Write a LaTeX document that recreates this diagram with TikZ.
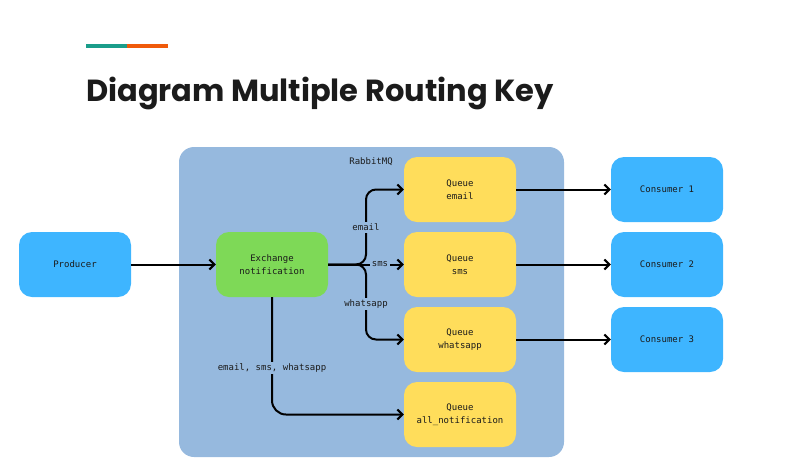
\documentclass[tikz,border=0pt]{standalone}
\usepackage{fontspec}
\setmonofont{DejaVu Sans Mono}
\newfontfamily\titlefont{Poppins}
\usetikzlibrary{arrows.meta}
\definecolor{teal1}{HTML}{1A9D8A}
\definecolor{orange1}{HTML}{F05A0A}
\definecolor{rabbit}{HTML}{96B9DE}
\definecolor{bluebox}{HTML}{3EB5FF}
\definecolor{greenbox}{HTML}{7ED957}
\definecolor{yellowbox}{HTML}{FFDD5B}
\definecolor{ink}{HTML}{1B1B1B}
\tikzset{
  box/.style={rounded corners=13pt, minimum width=112pt, minimum height=65pt, inner sep=0pt,
    align=center, font=\ttfamily\fontsize{9}{13}\selectfont, text=ink},
  prodbox/.style={box, fill=bluebox},
  exbox/.style={box, fill=greenbox},
  qbox/.style={box, fill=yellowbox},
  conn/.style={line width=2pt, draw=black, -{Straight Barb[length=5pt,width=10pt,line width=2pt]}},
  lbl/.style={font=\ttfamily\fontsize{9}{10}\selectfont, text=ink, fill=rabbit, inner sep=2pt},
}
\begin{document}
\begin{tikzpicture}[x=1pt,y=-1pt]
\useasboundingbox (0,0) rectangle (786,472);
% accent bar
\fill[teal1] (86,44) rectangle (127,48);
\fill[orange1] (127,44) rectangle (168,48);
\node[anchor=base west, inner sep=0pt, text=ink, font=\titlefont\bfseries\fontsize{30.5}{36}\selectfont] (title) at (86,101) {Diagram Multiple Routing Key};
% container
\node[fill=rabbit, rounded corners=15pt, minimum width=385pt, minimum height=310pt, inner sep=0pt] (rabbitmq) at (371.5,302) {};
\node[font=\ttfamily\fontsize{9}{10}\selectfont, text=ink] (rlabel) at (371,162) {RabbitMQ};
% nodes
\node[prodbox] (producer) at (75,264.5) {Producer};
\node[exbox] (exchange) at (272,264.5) {Exchange\\notification};
\node[qbox] (qemail) at (460,189.5) {Queue\\email};
\node[qbox] (qsms) at (460,264.5) {Queue\\sms};
\node[qbox] (qwa) at (460,339.5) {Queue\\whatsapp};
\node[qbox] (qall) at (460,414.5) {Queue\\all\_notification};
\node[prodbox] (c1) at (667,189.5) {Consumer 1};
\node[prodbox] (c2) at (667,264.5) {Consumer 2};
\node[prodbox] (c3) at (667,339.5) {Consumer 3};
% connectors
\coordinate (branch) at (366,264.5);
\draw[conn] (producer) -- (exchange);
\draw[conn, rounded corners=10pt] (exchange.east) -- (branch) |- (qemail.west);
\draw[conn, rounded corners=10pt] (exchange.east) -- (branch) |- (qwa.west);
\draw[conn] (exchange.east) -- (qsms.west);
\draw[conn, rounded corners=14pt] (exchange.south) |- (qall.west);
\node[lbl] (lemail) at (366,227) {email};
\node[lbl] (lsms) at (380,264.5) {sms};
\node[lbl] (lwa) at (366,304) {whatsapp};
\node[lbl] (lall) at (272,368) {email, sms, whatsapp};
\draw[conn] (qemail) -- (c1);
\draw[conn] (qsms) -- (c2);
\draw[conn] (qwa) -- (c3);
\end{tikzpicture}
\end{document}
